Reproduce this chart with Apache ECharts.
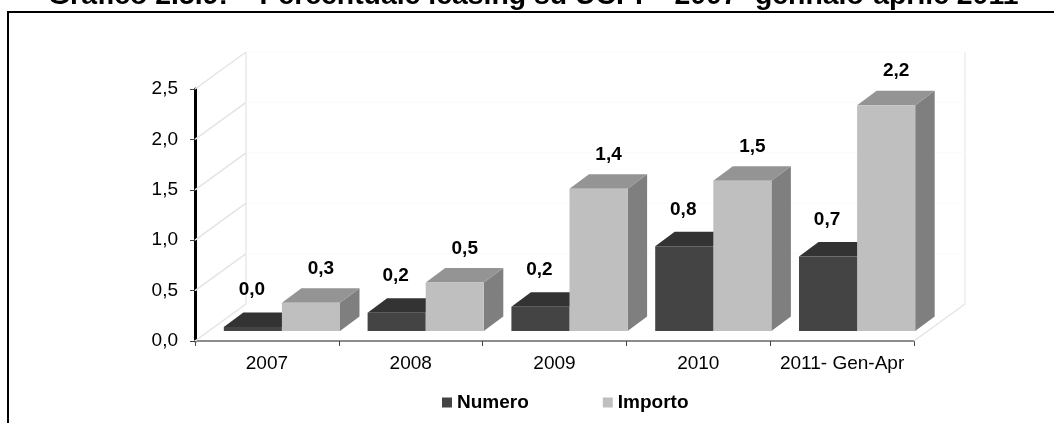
<!DOCTYPE html>
<html>
<head>
<meta charset="utf-8">
<style>
  html, body { margin: 0; padding: 0; background: #fff; }
  #chart { width: 1054px; height: 423px; }
</style>
<script src="https://cdn.jsdelivr.net/npm/echarts@6/dist/echarts.min.js"></script>
</head>
<body>
<div id="chart"></div>
<script>
const categories = ['2007', '2008', '2009', '2010', '2011- Gen-Apr']
const numero = [0.04, 0.18, 0.24, 0.84, 0.74]
const importo = [0.28, 0.48, 1.41, 1.49, 2.24]
const yTicks = [0, 0.5, 1, 1.5, 2, 2.5]

const font = '"Liberation Sans", Arial, sans-serif'
const comma = v => v.toFixed(1).replace('.', ',')

// finta prospettiva: spostamento del muro di fondo e delle colonne
const wallDx = 51
const wallDy = -37
const barDx = 15
const barDy = -10
const boxDx = 19.5
const boxDy = -14.5

function barRenderer(slot, colors, labelDx, labelDy) {
  return function (params, api) {
    const i = api.value(0)
    const v = api.value(1)
    const base = api.coord([i, 0])
    const top = api.coord([i, v])
    const w = api.size([1, 0])[0] * 0.404
    const x0 = base[0] + barDx + (slot - 1) * w
    const x1 = x0 + w
    const y0 = base[1] + barDy
    const y1 = top[1] + barDy
    return {
      type: 'group',
      children: [
        { type: 'polygon', shape: { points: [[x1, y0], [x1 + boxDx, y0 + boxDy], [x1 + boxDx, y1 + boxDy], [x1, y1]] }, style: { fill: colors.side } },
        { type: 'polygon', shape: { points: [[x0, y1], [x1, y1], [x1 + boxDx, y1 + boxDy], [x0 + boxDx, y1 + boxDy]] }, style: { fill: colors.top } },
        { type: 'rect', shape: { x: x0, y: y1, width: w, height: y0 - y1 }, style: { fill: colors.front } },
        {
          type: 'text',
          style: {
            text: comma(v),
            x: (x0 + x1) / 2 + labelDx,
            y: y1 + labelDy,
            align: 'center',
            verticalAlign: 'middle',
            font: 'bold 19px ' + font,
            fill: '#000'
          }
        }
      ]
    }
  }
}

function wallRenderer(params, api) {
  const v = api.value(0)
  const half = api.size([1, 0])[0] / 2
  const p = api.coord([0, v])
  const left = p[0] - half
  const right = api.coord([categories.length - 1, v])[0] + half
  const line = (x1, y1, x2, y2, color, width) => ({
    type: 'line',
    shape: { x1, y1, x2, y2 },
    style: { stroke: color, lineWidth: width }
  })
  const children = [
    line(left, p[1], left + wallDx, p[1] + wallDy, '#e4e4e4', 1.5),
    line(left + wallDx, p[1] + wallDy, right + wallDx, p[1] + wallDy, '#fbfbfb', 1)
  ]
  if (v === 0) {
    const top = api.coord([0, yTicks[yTicks.length - 1]])[1] + wallDy
    children.push(line(right, p[1], right + wallDx, p[1] + wallDy, '#e4e4e4', 1.5))
    children.push(line(left + wallDx, p[1] + wallDy, left + wallDx, top, '#e8e8e8', 1.5))
    children.push(line(right + wallDx, p[1] + wallDy, right + wallDx, top, '#ececec', 1.5))
  }
  return { type: 'group', children }
}

const myChart = echarts.init(document.getElementById('chart'), null, { renderer: 'canvas' })

myChart.setOption({
  backgroundColor: '#fff',
  animation: false,
  title: {
    text: 'Grafico 2.5.9:    Percentuale leasing su UCPI – 2007- gennaio-aprile 2011',
    left: 48,
    top: -18,
    padding: 0,
    textStyle: { fontFamily: font, fontWeight: 'bold', fontSize: 28.4, color: '#000' }
  },
  graphic: [{
    type: 'polyline',
    silent: true,
    shape: { points: [[8, 423], [8, 12], [1054, 12]] },
    style: { stroke: '#000', lineWidth: 2, fill: null }
  }],
  legend: {
    data: ['Numero', 'Importo'],
    left: 442,
    top: 393,
    padding: 0,
    itemWidth: 10,
    itemHeight: 10,
    itemGap: 74,
    icon: 'rect',
    textStyle: { fontFamily: font, fontWeight: 'bold', fontSize: 19, color: '#000' }
  },
  grid: { left: 195, right: 140, top: 89, bottom: 82 },
  xAxis: {
    type: 'category',
    data: categories,
    axisLine: { lineStyle: { color: '#8c8c8c', width: 2 } },
    axisTick: { show: true, length: 5, lineStyle: { color: '#444' } },
    axisLabel: { color: '#000', fontFamily: font, fontSize: 19, margin: 13, interval: 0 }
  },
  yAxis: {
    type: 'value',
    min: 0,
    max: 2.5,
    interval: 0.5,
    axisLine: { show: true, lineStyle: { color: '#000', width: 3 } },
    axisTick: { show: true, length: 5, lineStyle: { color: '#444' } },
    splitLine: { show: false },
    axisLabel: { color: '#000', fontFamily: font, fontSize: 19, margin: 17, padding: [3, 0, 0, 0], formatter: comma }
  },
  series: [
    {
      name: 'Pareti',
      type: 'custom',
      silent: true,
      renderItem: wallRenderer,
      encode: { y: 0 },
      data: yTicks.map(v => [v]),
      z: 1
    },
    {
      name: 'Numero',
      type: 'custom',
      renderItem: barRenderer(0, { front: '#444444', top: '#333333', side: '#333333' }, -1, -37),
      itemStyle: { color: '#444444' },
      encode: { x: 0, y: 1 },
      data: numero.map((v, i) => [i, v]),
      z: 2
    },
    {
      name: 'Importo',
      type: 'custom',
      renderItem: barRenderer(1, { front: '#bfbfbf', top: '#949494', side: '#7f7f7f' }, 10, -34),
      itemStyle: { color: '#bfbfbf' },
      encode: { x: 0, y: 1 },
      data: importo.map((v, i) => [i, v]),
      z: 3
    }
  ]
})
</script>
</body>
</html>
